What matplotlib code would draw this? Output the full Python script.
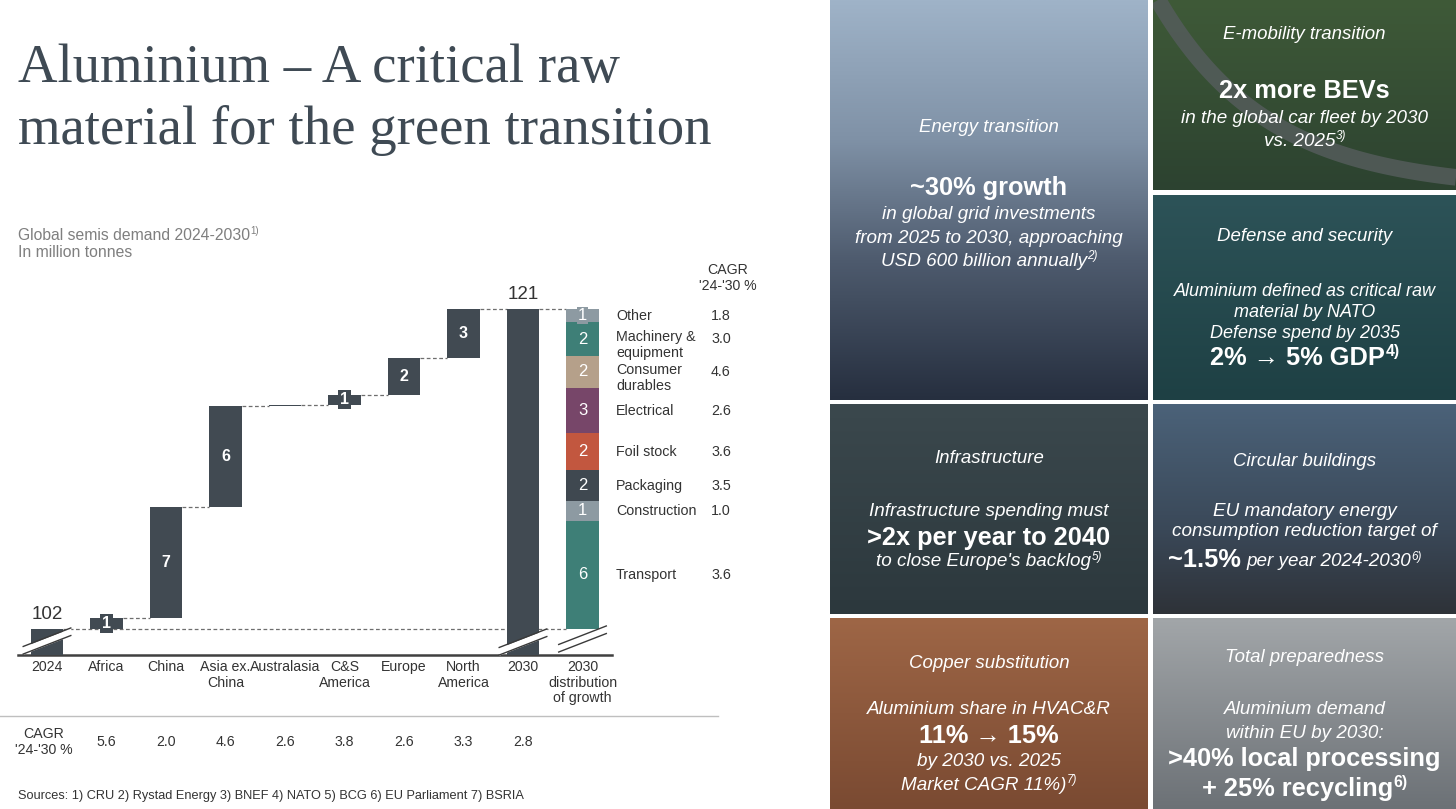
import numpy as np
import matplotlib
matplotlib.use("Agg")
import matplotlib.pyplot as plt
from matplotlib.colors import to_rgb
from matplotlib.transforms import blended_transform_factory as blend

# ---------------- data ----------------
start_label = "2024"
start_value = 102.0
regions = ["Africa", "China", "Asia ex.\nChina", "Australasia", "C&S\nAmerica",
           "Europe", "North\nAmerica"]
region_growth = [0.6, 6.6, 6.0, 0.1, 0.6, 2.2, 2.9]
region_cagr = [5.6, 2.0, 4.6, 2.6, 3.8, 2.6, 3.3]
end_label = "2030"
total_cagr = 2.8
dist_label = "2030\ndistribution\nof growth"

segments = ["Transport", "Construction", "Packaging", "Foil stock", "Electrical",
            "Consumer\ndurables", "Machinery &\nequipment", "Other"]
segment_growth = [6.4, 1.2, 1.8, 2.2, 2.7, 1.9, 2.0, 0.8]
segment_cagr = [3.6, 1.0, 3.5, 3.6, 2.6, 4.6, 3.0, 1.8]
segment_colors = ["#3E7F77", "#8D9AA2", "#3F4850", "#C2573F", "#774669",
                  "#B5A08A", "#3E7F77", "#8D9AA2"]

title_lines = ["Aluminium \u2013 A critical raw", "material for the green transition"]
subtitle = ["Global semis demand 2024-2030", "In million tonnes"]
sources = "Sources: 1) CRU 2) Rystad Energy 3) BNEF 4) NATO 5) BCG 6) EU Parliament 7) BSRIA"

# ---------------- style ----------------
W, H = 1456, 809
SANS = ["Liberation Sans", "DejaVu Sans"]
SERIF = ["Liberation Serif", "DejaVu Serif"]
plt.rcParams["font.family"] = SANS
DARK = "#414A52"
TXT = "#333333"

fig = plt.figure(figsize=(W / 100, H / 100), dpi=100)
fig.patch.set_facecolor("white")
renderer = fig.canvas.get_renderer()

# overlay axes in pixel coordinates
ax0 = fig.add_axes([0, 0, 1, 1], zorder=0)
ax0.set_axis_off()
ax0.set_xlim(0, W)
ax0.set_ylim(H, 0)

# chart axes mapped onto pixel frame
ppu = 16.82            # pixels per unit
base_px = 628.5
x_c0, x_sp = 47.0, 59.5
ax_left, ax_right, ax_bot, ax_top = 18, 612, 655, 280
ymin = start_value - (ax_bot - base_px) / ppu
ymax = start_value + (base_px - ax_top) / ppu
ax = fig.add_axes([ax_left / W, (H - ax_bot) / H, (ax_right - ax_left) / W,
                   (ax_bot - ax_top) / H], zorder=2)
ax.set_facecolor("none")
ax.set_xlim((ax_left - x_c0) / x_sp, (ax_right - x_c0) / x_sp)
ax.set_ylim(ymin, ymax)

bw = 0.55
n_reg = len(regions)
growth = np.array(region_growth)
tops = start_value + np.cumsum(growth)
bottoms = tops - growth
total = tops[-1]
x_reg = np.arange(1, n_reg + 1)
x_end = n_reg + 1
x_dist = n_reg + 2

ax.bar(0, start_value, width=bw, color=DARK, zorder=3)
ax.bar(x_reg, growth, bottom=bottoms, width=bw, color=DARK, zorder=3)
ax.bar(x_end, total, width=bw, color=DARK, zorder=3)

sg = np.array(segment_growth)
s_tops = start_value + np.cumsum(sg)
s_bots = s_tops - sg
ax.bar([x_dist] * len(sg), sg, bottom=s_bots, width=bw, color=segment_colors, zorder=3)

# connectors
dash = dict(color="#6E6E6E", lw=0.9, linestyle=(0, (3, 2)), zorder=2)
ax.plot([bw / 2, x_dist - bw / 2], [start_value] * 2, **dash)
for i, t in enumerate(tops):
    ax.plot([x_reg[i] + bw / 2, x_reg[i] + 1 - bw / 2], [t, t], **dash)
ax.plot([x_end + bw / 2, x_dist - bw / 2], [total, total], **dash)

# value labels
for i, v in enumerate(growth):
    r = int(round(v))
    if r == 0:
        continue
    kw = dict(ha="center", va="center", color="white", fontsize=11.5, fontweight="bold", zorder=5)
    if v < 1:
        kw["bbox"] = dict(boxstyle="square,pad=0.12", fc=DARK, ec="none")
    ax.text(x_reg[i], bottoms[i] + v / 2, f"{r}", **kw)
for i, v in enumerate(sg):
    kw = dict(ha="center", va="center", color="white", fontsize=12, zorder=5)
    if v < 1:
        kw["bbox"] = dict(boxstyle="square,pad=0.08", fc=segment_colors[i], ec="none")
    ax.text(x_dist, s_bots[i] + v / 2, f"{int(round(v))}", **kw)

ax.text(0, start_value + 0.35, f"{start_value:.0f}", ha="center", va="bottom",
        fontsize=13.5, color=TXT)
ax.text(x_end, total + 0.33, f"{total:.0f}", ha="center", va="bottom",
        fontsize=13.5, color=TXT)

# axis break marks
def axis_break(x, yc, fill=True):
    hx, dy, sep = 0.40, 0.55, 0.45
    xs = np.array([x - hx, x + hx])
    lo = np.array([yc - dy, yc + dy]) - sep / 2
    hi = lo + sep
    if fill:
        ax.fill_between(xs, lo, hi, color="white", zorder=4, lw=0)
    ax.plot(xs, lo, color="#3A3A3A", lw=1.0, zorder=4)
    ax.plot(xs, hi, color="#3A3A3A", lw=1.0, zorder=4)

axis_break(0, start_value - (641 - base_px) / ppu)
axis_break(x_end, start_value - (642 - base_px) / ppu)
axis_break(x_dist, start_value - (639 - base_px) / ppu)

# axes styling
ax.set_xticks(range(n_reg + 3))
ax.set_xticklabels([start_label] + regions + [end_label, dist_label],
                   fontsize=10.2, color=TXT, linespacing=1.15)
ax.tick_params(axis="x", length=0, pad=3.5)
ax.set_yticks([])
for s in ["left", "right", "top"]:
    ax.spines[s].set_visible(False)
ax.spines["bottom"].set_color("#404040")
ax.spines["bottom"].set_linewidth(1.8)

# legend for distribution
lt = blend(ax0.transData, ax.transData)
for i, name in enumerate(segments):
    yc = s_bots[i] + sg[i] / 2
    if "\n" in name:
        ax.text(616, yc + 0.52, name, transform=lt, ha="left", va="top", fontsize=10.3,
                color=TXT, linespacing=1.15)
    else:
        ax.text(616, yc, name, transform=lt, ha="left", va="center", fontsize=10.3, color=TXT)
    ax.text(711, yc, f"{segment_cagr[i]:.1f}", transform=lt, ha="left", va="center",
            fontsize=10.3, color=TXT)
ax0.text(728, 270, "CAGR", ha="center", va="center", fontsize=10.2, color=TXT)
ax0.text(728, 286, "'24-'30 %", ha="center", va="center", fontsize=10.2, color=TXT)

# bottom CAGR row
ax0.plot([0, 718], [716, 716], color="#BFBFBF", lw=1.0)
ax0.text(44, 734, "CAGR", ha="center", va="center", fontsize=10.2, color=TXT)
ax0.text(44, 750, "'24-'30 %", ha="center", va="center", fontsize=10.2, color=TXT)
bt = blend(ax.transData, ax0.transData)
for xv, cv in zip(list(x_reg) + [x_end], region_cagr + [total_cagr]):
    ax.text(xv, 742, f"{cv:.1f}", transform=bt, ha="center", va="center",
            fontsize=10.2, color=TXT, clip_on=False)

ax0.text(18, 796, sources, ha="left", va="center", fontsize=9.15, color=TXT)


# text with a small superscript note, placed in pixel coordinates
def sup_text(x, y, main, sup, size, color, style="normal", weight="normal",
             ha="center", z=3):
    kw = dict(va="center", fontsize=size, style=style, weight=weight, color=color,
              family=SANS, zorder=z)
    tm = ax0.text(0, y, main, ha="left", **kw)
    kw["fontsize"] = size * 0.62
    ts = ax0.text(0, y, sup, ha="left", **kw)
    wm = tm.get_window_extent(renderer).width
    ws = ts.get_window_extent(renderer).width
    left = x - (wm + ws) / 2 if ha == "center" else x
    tm.set_x(left)
    ts.set_x(left + wm + 0.5)
    ts.set_y(y - size * 0.36)
    return tm, ts


# title and subtitle
t1 = ax0.text(18, 82, title_lines[0], ha="left", va="baseline", fontsize=40,
              family=SERIF, color="#3F4A54")
t2 = ax0.text(18, 144, title_lines[1], ha="left", va="baseline", fontsize=40,
              family=SERIF, color="#3F4A54")
fs = 40 * 692 / t2.get_window_extent(renderer).width
t1.set_fontsize(fs)
t2.set_fontsize(fs)
sup_text(18, 235, subtitle[0], "1)", 11.3, "#7F7F7F", ha="left")
ax0.text(18, 252, subtitle[1], ha="left", va="center", fontsize=11.3, color="#7F7F7F")

# ---------------- right-hand tiles ----------------
def tile(x0, y0, x1, y1, stops):
    pos = np.linspace(0, 1, 200)
    sp = [s[0] for s in stops]
    cols = np.array([to_rgb(s[1]) for s in stops])
    img = np.stack([np.interp(pos, sp, cols[:, k]) for k in range(3)], axis=-1)[:, None, :]
    ax0.imshow(img, extent=(x0, x1, y1, y0), aspect="auto", origin="upper",
               interpolation="bilinear", zorder=1)

LX0, LX1, RX0, RX1 = 830, 1148, 1153, 1456
tile(LX0, 0, LX1, 400, [(0, "#9FB3C8"), (0.35, "#7F91A6"), (0.65, "#4E5B6E"), (1, "#262F3F")])
tile(RX0, 0, RX1, 190, [(0, "#3F5A38"), (1, "#2C4230")])
tile(RX0, 195, RX1, 400, [(0, "#2D5358"), (1, "#1E4044")])
tile(LX0, 404, LX1, 614, [(0, "#3B484D"), (1, "#2C383D")])
tile(RX0, 404, RX1, 614, [(0, "#4B6279"), (0.6, "#3A4858"), (1, "#2E3238")])
tile(LX0, 618, LX1, 809, [(0, "#9E6646"), (1, "#7A4A32")])
tile(RX0, 618, RX1, 809, [(0, "#A2A6A9"), (1, "#6C7176")])

# scenery hint: road in the e-mobility tile (decoration only)
rx = np.linspace(1158, 1456, 80)
ry = 190 * (1 - np.exp(-(rx - 1158) / 110))
road = ax0.plot(rx, ry, color="#545C5B", lw=12, alpha=0.85, zorder=2,
                solid_capstyle="butt")[0]
ax0.set_xlim(0, W)
ax0.set_ylim(H, 0)
import matplotlib.patches as mpatches
road.set_clip_path(mpatches.Rectangle((RX0, 0), RX1 - RX0, 190, transform=ax0.transData))

WHITE = "white"
LC, RC = (LX0 + LX1) / 2, (RX0 + RX1) / 2
HD, BD, BG = 13.4, 13.6, 18.3


def wt(x, y, s, size=BD, style="italic", weight="normal", ha="center"):
    ax0.text(x, y, s, ha=ha, va="center", fontsize=size, style=style, weight=weight,
             color=WHITE, family=SANS, zorder=3)


def wb(x, y, s):
    wt(x, y, s, BG, style="normal", weight="bold")


wt(LC, 127, "Energy transition", HD)
wb(LC, 188, "~30% growth")
wt(LC, 214, "in global grid investments")
wt(LC, 238, "from 2025 to 2030, approaching")
sup_text(LC, 261, "USD 600 billion annually", "2)", BD, WHITE, style="italic")

wt(RC, 34, "E-mobility transition", HD)
wb(RC, 91, "2x more BEVs")
wt(RC, 118, "in the global car fleet by 2030")
sup_text(RC, 141, "vs. 2025", "3)", BD, WHITE, style="italic")

wt(RC, 236, "Defense and security", HD)
wt(RC, 292, "Aluminium defined as critical raw", 13.0)
wt(RC, 312, "material by NATO", 13.0)
wt(RC, 333, "Defense spend by 2035", 13.0)
sup_text(RC, 358, "2% \u2192 5% GDP", "4)", BG, WHITE, weight="bold")

wt(LC, 458, "Infrastructure", HD)
wt(LC, 512, "Infrastructure spending must")
wb(LC, 538, ">2x per year to 2040")
sup_text(LC, 562, "to close Europe's backlog", "5)", BD, WHITE, style="italic")

wt(RC, 461, "Circular buildings", HD)
wt(RC, 511, "EU mandatory energy")
wt(RC, 532, "consumption reduction target of")
wt(1241, 560, "~1.5%", BG, style="normal", weight="bold", ha="right")
sup_text(1246, 562, "per year 2024-2030", "6)", BD, WHITE, style="italic", ha="left")

wt(LC, 664, "Copper substitution", HD)
wt(LC, 710, "Aluminium share in HVAC&R")
wb(LC, 736, "11% \u2192 15%")
wt(LC, 762, "by 2030 vs. 2025")
sup_text(LC, 785, "Market CAGR 11%)", "7)", BD, WHITE, style="italic")

wt(RC, 657, "Total preparedness", HD)
wt(RC, 710, "Aluminium demand")
wt(RC, 733, "within EU by 2030:")
wb(RC, 759, ">40% local processing")
sup_text(RC, 789, "+ 25% recycling", "6)", BG, WHITE, weight="bold")

fig.savefig("out.png", dpi=100)
